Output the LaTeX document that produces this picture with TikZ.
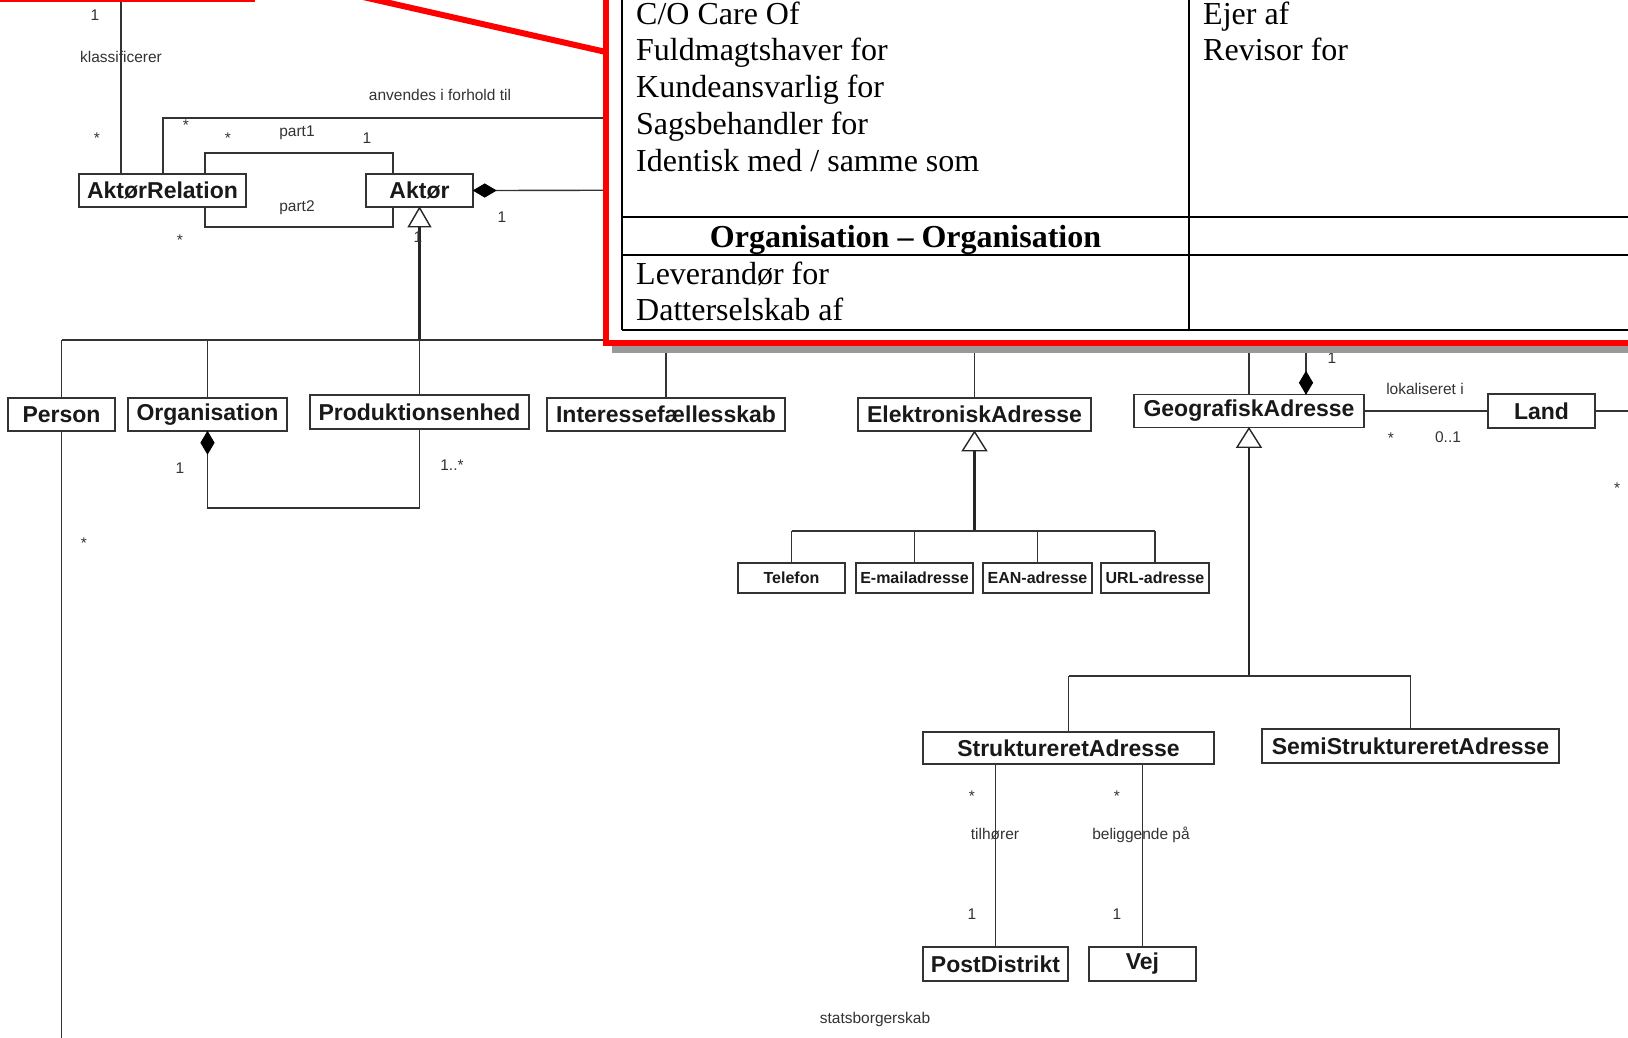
\documentclass[tikz,border=0pt]{standalone}
\usepackage{fontspec}
\setmainfont{Liberation Serif}
\newfontfamily\arialf{Liberation Sans}
\begin{document}
\begin{tikzpicture}[x=1pt,y=-1pt,
  cls/.style={draw=black!80, line width=1.5pt, fill=white, inner sep=0pt,
    font=\arialf\bfseries\fontsize{23}{27}\selectfont, text=black!90},
  smallcls/.style={cls, font=\arialf\bfseries\fontsize{16}{19}\selectfont},
  lbl/.style={inner sep=0pt, font=\arialf\fontsize{15.5}{18}\selectfont, text=black!80,
    text height=11pt, text depth=0pt},
  ln/.style={draw=black!80, line width=1.4pt},
  trunk/.style={draw=black!85, line width=2.4pt},
  midtrunk/.style={draw=black!85, line width=1.9pt},
  tri/.style={draw=black!85, line width=1.4pt, fill=white},
  dia/.style={draw=black, line width=1pt, fill=black},
  tbl/.style={inner sep=0pt, font=\fontsize{32}{36.8}\selectfont},
  tblhead/.style={inner sep=0pt, font=\bfseries\fontsize{32}{36.8}\selectfont},
  tline/.style={draw=black, line width=1.7pt},
  redline/.style={draw=red, line width=6pt}
]
\useasboundingbox (0,0) rectangle (1628,1037);
\clip (0,0) rectangle (1628,1037);
\fill[white] (0,0) rectangle (1628,1037);

% ---------- classes ----------
\node[cls, minimum width=167pt, minimum height=33pt] (ar) at (162.5,190.5) {AktørRelation};
\node[cls, minimum width=107pt, minimum height=33pt] (ak) at (419.5,190.5) {Aktør};
\node[cls, minimum width=107pt, minimum height=33pt] (person) at (61.5,414.5) {Person};
\node[cls, minimum width=159pt, minimum height=33pt] (org) at (207.5,414.5) {Organisation};
\node[cls, minimum width=219pt, minimum height=34pt] (prod) at (419.5,412) {Produktionsenhed};
\node[cls, minimum width=238pt, minimum height=33pt] (inter) at (666,414.5) {Interessefællesskab};
\node[cls, minimum width=233pt, minimum height=33pt] (ea) at (974.5,414.5) {ElektroniskAdresse};
\node[cls, minimum width=230pt, minimum height=33pt] (ga) at (1249,411) {GeografiskAdresse};
\node[cls, minimum width=107pt, minimum height=34pt] (land) at (1541.5,411) {Land};
\node[smallcls, minimum width=107pt, minimum height=30pt] (tel) at (791.5,578) {Telefon};
\node[smallcls, minimum width=117pt, minimum height=30pt] (email) at (914.5,578) {E-mailadresse};
\node[smallcls, minimum width=109pt, minimum height=30pt] (ean) at (1037.5,578) {EAN-adresse};
\node[smallcls, minimum width=108pt, minimum height=30pt] (url) at (1155,578) {URL-adresse};
\node[cls, minimum width=291pt, minimum height=32pt] (stra) at (1068.5,748) {StruktureretAdresse};
\node[cls, minimum width=297pt, minimum height=34pt] (semi) at (1410.5,746) {SemiStruktureretAdresse};
\node[cls, minimum width=145pt, minimum height=34pt] (post) at (995.5,964) {PostDistrikt};
\node[cls, minimum width=107pt, minimum height=34pt] (vej) at (1142.5,964) {Vej};

% ---------- helper coordinates ----------
\coordinate (kl) at (121,-2);
\coordinate (anv) at (163,118);
\coordinate (anvE) at (700,118);
\coordinate (p1) at (205,153);
\coordinate (p1r) at (393,153);
\coordinate (p2) at (205,227);
\coordinate (p2r) at (393,227);
\coordinate (akE) at (700,190);
\coordinate (gh) at (0,340);
\coordinate (orgb) at (0,508);
\coordinate (eah) at (0,531);
\coordinate (gah) at (0,676);
\coordinate (gacomp) at (1306,340);
\coordinate (landE) at (1632,411);
\coordinate (bottom) at (0,1042);

% ---------- connectors ----------
\draw[ln] (kl) -- (ar.north -| kl);
\draw[ln] (ar.north -| anv) -- (anv) -- (anvE);
\draw[ln] (ar.north -| p1) -- (p1) -- (p1r) -- (ak.north -| p1r);
\draw[ln] (ar.south -| p2) -- (p2) -- (p2r) -- (ak.south -| p2r);
\draw[ln] (ak.east) ++(22,0) -- (akE);
\draw[dia] (ak.east) -- ++(11,-6.5) -- ++(11,6.5) -- ++(-11,6.5) -- cycle;

% Aktør generalization
\draw[trunk] (ak.south) ++(0,19) -- (ak.south |- gh);
\draw[ln] (person.north |- gh) -- (ga.north |- gh);
\draw[ln] (person.north) -- (person.north |- gh);
\draw[ln] (org.north) -- (org.north |- gh);
\draw[ln] (prod.north) -- (prod.north |- gh);
\draw[ln] (inter.north) -- (inter.north |- gh);
\draw[ln] (ea.north) -- (ea.north |- gh);
\draw[ln] (ga.north) -- (ga.north |- gh);
\draw[tri] (ak.south) -- ++(-11,19) -- ++(22,0) -- cycle;
\draw[ln] (person.south) -- (person.south |- bottom);

% Organisation - Produktionsenhed composition
\draw[ln] (org.south) ++(0,22) |- (prod.south |- orgb) -- (prod.south);
\draw[dia] (org.south) -- ++(-6.5,11) -- ++(6.5,11) -- ++(6.5,-11) -- cycle;

% ElektroniskAdresse generalization
\draw[trunk] (ea.south) ++(0,19) -- (ea.south |- eah);
\draw[ln] (tel.north |- eah) -- (url.north |- eah);
\draw[ln] (tel.north) -- (tel.north |- eah);
\draw[ln] (email.north) -- (email.north |- eah);
\draw[ln] (ean.north) -- (ean.north |- eah);
\draw[ln] (url.north) -- (url.north |- eah);
\draw[tri] (ea.south) -- ++(-12,19) -- ++(24,0) -- cycle;

% GeografiskAdresse
\draw[ln] (gacomp) -- (ga.north -| gacomp) ;
\draw[dia] (ga.north -| gacomp) -- ++(-6.5,-11) -- ++(6.5,-11) -- ++(6.5,11) -- cycle;
\draw[midtrunk] (ga.south) ++(0,19) -- (ga.south |- gah);
\draw[ln] (stra.north |- gah) -- (semi.north |- gah);
\draw[ln] (stra.north) -- (stra.north |- gah);
\draw[ln] (semi.north) -- (semi.north |- gah);
\draw[tri] (ga.south) -- ++(-12,19) -- ++(24,0) -- cycle;
\draw[ln] (ga.east) -- (land.west);
\draw[ln] (land.east) -- (landE);
\draw[ln] (post.north) -- (post.north |- stra.south);
\draw[ln] (vej.north) -- (vej.north |- stra.south);

% ---------- labels ----------
\node[lbl] (l1) at (95,15) {1};
\node[lbl] (l2) at (121,57) {klassificerer};
\node[lbl] (l3) at (97,138.4) {*};
\node[lbl] (l4) at (186,125.4) {*};
\node[lbl] (l5) at (228,138.4) {*};
\node[lbl] (l6) at (297,131) {part1};
\node[lbl] (l7) at (367,138) {1};
\node[lbl] (l8) at (297,206) {part2};
\node[lbl] (l9) at (180,240.4) {*};
\node[lbl] (l10) at (502,217) {1};
\node[lbl] (l11) at (418,237) {1};
\node[lbl] (l12) at (440,95) {anvendes i forhold til};
\node[lbl] (l13) at (180,468) {1};
\node[lbl] (l14) at (452,465) {1..*};
\node[lbl] (l15) at (84,543.4) {*};
\node[lbl] (l16) at (1332,358) {1};
\node[lbl] (l17) at (1425,389) {lokaliseret i};
\node[lbl] (l18) at (1391,438.4) {*};
\node[lbl] (l19) at (1448,437) {0..1};
\node[lbl] (l20) at (1617,488.4) {*};
\node[lbl] (l21) at (972,796.4) {*};
\node[lbl] (l22) at (1117,796.4) {*};
\node[lbl] (l23) at (995,834) {tilhører};
\node[lbl] (l24) at (1141,834) {beliggende på};
\node[lbl] (l25) at (972,914) {1};
\node[lbl] (l26) at (1117,914) {1};
\node[lbl] (l27) at (875,1018) {statsborgerskab};

% ---------- red callout with table ----------
\fill[black!40] (612,-100) rectangle (1700,353);
\draw[redline, fill=white] (606,343) rectangle (1700,-100);
\draw[redline] (-20,-60) rectangle (252,-1);
\draw[redline] (330,-10.5) -- (606,52);

\draw[tline] (622,-10) -- (622,330);
\draw[tline] (1189,-10) -- (1189,330);
\draw[tline] (622,217) -- (1700,217);
\draw[tline] (622,255) -- (1700,255);
\draw[tline] (622,330) -- (1700,330);

\node[tbl, anchor=base west] (t1) at (636,24) {C/O Care Of};
\node[tbl, anchor=base west] (t2) at (636,60.8) {Fuldmagtshaver for};
\node[tbl, anchor=base west] (t3) at (636,97.6) {Kundeansvarlig for};
\node[tbl, anchor=base west] (t4) at (636,134.4) {Sagsbehandler for};
\node[tbl, anchor=base west] (t5) at (636,171.2) {Identisk med / samme som};
\node[tbl, anchor=base west] (t6) at (1203,24) {Ejer af};
\node[tbl, anchor=base west] (t7) at (1203,60.8) {Revisor for};
\node[tblhead, anchor=base] (t8) at (905.5,247.5) {Organisation – Organisation};
\node[tbl, anchor=base west] (t9) at (636,284.5) {Leverandør for};
\node[tbl, anchor=base west] (t10) at (636,320.5) {Datterselskab af};
\end{tikzpicture}
\end{document}
